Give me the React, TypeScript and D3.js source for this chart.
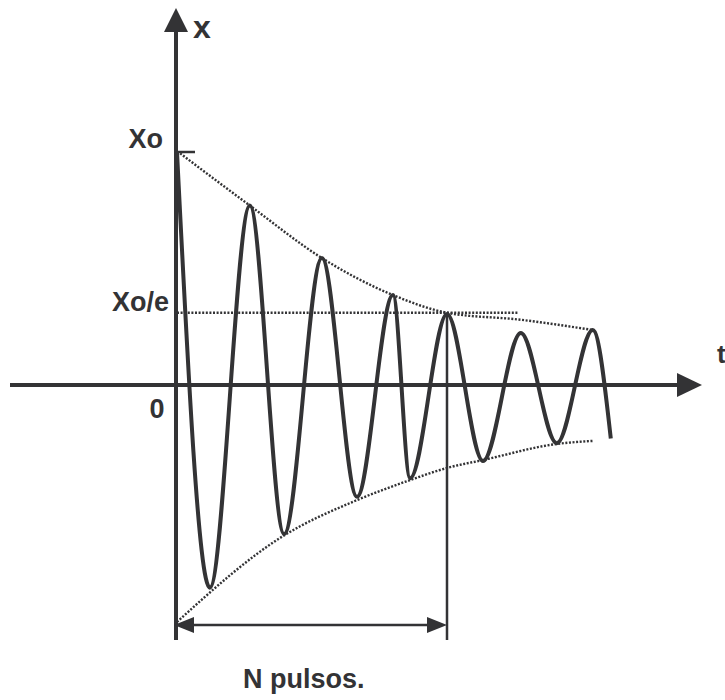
import { useMemo } from "react";
import * as d3 from "d3";

const W = 725;
const H = 700;
const INK = "#333335";

// damped oscillation, extrema (t in arbitrary units, x relative to Xo)
const waveT = [0, 0.73, 1.62, 2.38, 3.22, 4.0, 4.8, 5.18, 6.0, 6.8, 7.64, 8.44, 9.24, 9.64];
const waveX = [1.0, -0.87, 0.77, -0.64, 0.545, -0.48, 0.386, -0.4, 0.305, -0.326, 0.223, -0.25, 0.236, -0.23];

// dotted envelopes
const upperT = [0.07, 1.62, 3.22, 4.8, 6.0, 7.64, 9.24];
const upperX = [0.994, 0.77, 0.545, 0.386, 0.31, 0.28, 0.236];
const lowerT = [0, 2.36, 4.0, 5.18, 5.98, 6.8, 8.44, 9.24];
const lowerX = [-1.017, -0.648, -0.494, -0.408, -0.357, -0.322, -0.253, -0.24];

const X_OVER_E = 0.31; // level of Xo/e line
const X_OVER_E_END = 7.6; // where that dotted line stops
const N_END = 6.0; // t of the N-th pulse

const labels = { x: "x", t: "t", xo: "Xo", xoe: "Xo/e", zero: "0", n: "N pulsos." };

const FONT = "'Liberation Sans', Arial, sans-serif";

export default function App() {
  const xScale = useMemo(() => d3.scaleLinear().domain([0, 10]).range([177, 627]), []);
  const yScale = useMemo(() => d3.scaleLinear().domain([-1, 1]).range([618, 152]), []);

  const wavePath = useMemo(() => {
    const line = d3
      .line<number>()
      .x((_, i) => xScale(waveT[i]))
      .y((d) => yScale(d))
      .curve(d3.curveMonotoneX);
    return line(waveX) || "";
  }, [xScale, yScale]);

  const envPath = (ts: number[], xs: number[]) =>
    d3
      .line<number>()
      .x((_, i) => xScale(ts[i]))
      .y((d) => yScale(d))
      .curve(d3.curveMonotoneX)(xs) || "";

  const x0 = xScale(0);
  const y0 = yScale(0);
  const nx = xScale(N_END);
  const arrowY = 625;

  return (
    <svg
      width={W}
      height={H}
      style={{ position: "absolute", left: 0, top: 0, background: "#fff" }}
    >
      {/* dotted envelopes */}
      <g fill="none" stroke={INK} strokeWidth={2.4} strokeDasharray="2,1.6">
        <path d={envPath(upperT, upperX)} />
        <path d={envPath(lowerT, lowerX)} />
        <line x1={x0} x2={xScale(X_OVER_E_END)} y1={yScale(X_OVER_E)} y2={yScale(X_OVER_E)} />
      </g>

      {/* axes */}
      <line x1={10} x2={680} y1={y0} y2={y0} stroke={INK} strokeWidth={4} />
      <path d={`M702,${y0} L677,${y0 - 12} L677,${y0 + 12} Z`} fill={INK} />
      <line x1={x0 - 1} x2={x0 - 1} y1={30} y2={640} stroke={INK} strokeWidth={4} />
      <path d={`M${x0 - 1},8 L${x0 - 13},32 L${x0 + 11},32 Z`} fill={INK} />
      <line x1={x0} x2={195} y1={yScale(1)} y2={yScale(1)} stroke={INK} strokeWidth={2.5} />

      {/* oscillation */}
      <path d={wavePath} fill="none" stroke={INK} strokeWidth={4} strokeLinejoin="round" />

      {/* N pulses marker */}
      <line x1={nx} x2={nx} y1={yScale(waveX[8])} y2={640} stroke={INK} strokeWidth={2.5} />
      <line x1={x0 + 12} x2={nx - 14} y1={arrowY} y2={arrowY} stroke={INK} strokeWidth={2.5} />
      <path d={`M${x0 - 3},${arrowY} L${x0 + 17},${arrowY - 8} L${x0 + 17},${arrowY + 8} Z`} fill={INK} />
      <path d={`M${nx},${arrowY} L${nx - 20},${arrowY - 8} L${nx - 20},${arrowY + 8} Z`} fill={INK} />

      {/* labels */}
      <g fill={INK} fontFamily={FONT} fontWeight="bold">
        <text x={193} y={38} fontSize={32}>{labels.x}</text>
        <text x={717} y={363} fontSize={26}>{labels.t}</text>
        <text x={163} y={148} fontSize={27} textAnchor="end">{labels.xo}</text>
        <text x={169} y={311} fontSize={27} textAnchor="end">{labels.xoe}</text>
        <text x={157} y={418} fontSize={27} textAnchor="middle">{labels.zero}</text>
        <text x={243} y={688} fontSize={27}>{labels.n}</text>
      </g>
    </svg>
  );
}
